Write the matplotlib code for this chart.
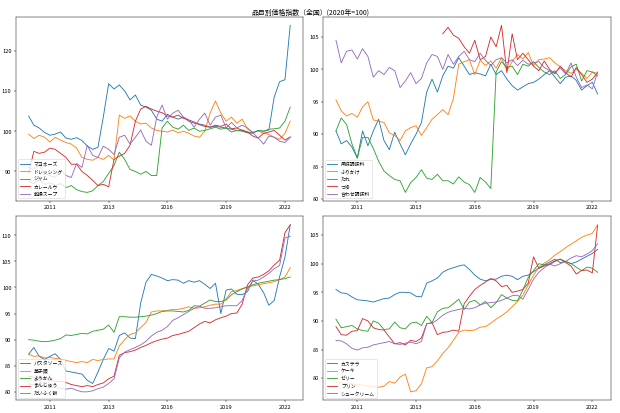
import numpy as np
import pandas as pd
import matplotlib
matplotlib.use("Agg")
import matplotlib.pyplot as plt

plt.rcParams['font.family'] = ['Noto Sans CJK JP', 'DejaVu Sans']

# quarterly observation dates (2010-01 ... 2022-04)
dates = pd.date_range('2010-01-01', periods=50, freq='3MS')
tick_dates = ['2011-01-01', '2013-10-01', '2016-07-01', '2019-04-01', '2022-01-01']
tick_labels = ['2011', '2013', '2016', '2019', '2022']

title = '品目別価格指数（全国）(2020年=100)'

# ---- panel 1 ----
names1 = ['マヨネーズ', 'ドレッシング', 'ジャム', 'カレールウ', '乾燥スープ']
mayo = [103.8, 101.5, 100.8, 99.7, 99.0, 99.3, 99.8, 98.3, 98.0, 98.4, 97.7, 96.3, 95.5, 96.0, 103.5, 111.8,
        110.5, 111.5, 110.0, 107.8, 109.0, 106.5, 106.0, 105.2, 103.0, 102.5, 104.2, 103.5, 103.0, 103.5,
        102.5, 102.0, 101.8, 101.5, 101.0, 101.2, 101.0, 100.8, 100.5, 100.2, 100.3, 99.8, 99.6, 100.2,
        100.0, 100.3, 108.5, 112.3, 112.8, 126.3]
dressing = [99.3, 98.2, 99.0, 98.5, 97.3, 98.5, 97.8, 97.2, 96.8, 95.8, 93.5, 93.0, 92.8, 93.5, 93.0, 94.0,
            92.8, 104.0, 103.2, 103.8, 102.5, 101.8, 102.0, 100.8, 100.2, 100.0, 99.8, 100.3, 99.6, 100.0,
            99.5, 98.8, 98.5, 100.0, 104.5, 107.5, 104.5, 102.5, 103.5, 102.0, 103.0, 100.5, 99.8, 100.0,
            99.5, 99.2, 98.5, 98.0, 99.5, 102.5]
jam = [87.5, 87.0, 88.0, 86.8, 87.2, 86.5, 87.0, 86.0, 86.5, 85.5, 85.0, 84.8, 85.2, 86.5, 87.5, 89.5,
       91.5, 94.8, 93.0, 90.5, 90.0, 89.3, 90.0, 89.0, 89.0, 100.8, 102.5, 101.0, 100.5, 101.5, 100.2,
       100.8, 100.0, 100.2, 100.6, 101.0, 100.5, 100.8, 99.8, 100.2, 100.0, 99.6, 99.5, 100.2, 100.0,
       100.5, 100.6, 100.8, 102.5, 106.0]
curry = [89.5, 95.0, 94.5, 94.8, 95.8, 95.5, 94.5, 93.5, 91.8, 91.8, 90.0, 89.0, 87.8, 86.5, 86.8, 86.2,
         93.0, 93.8, 94.5, 96.5, 102.5, 105.5, 106.2, 105.5, 105.0, 104.6, 103.8, 103.5, 104.0, 103.2,
         102.8, 102.3, 101.6, 101.2, 101.0, 101.5, 101.2, 101.8, 100.6, 100.8, 100.2, 99.8, 98.8, 98.3,
         99.5, 99.8, 100.2, 99.0, 97.8, 98.6]
soup = [91.0, 90.5, 91.5, 89.5, 89.0, 88.5, 90.5, 89.0, 88.5, 92.0, 91.0, 96.5, 94.0, 93.5, 96.3, 95.5,
        94.2, 98.5, 99.0, 96.8, 98.5, 100.3, 97.5, 96.5, 103.5, 106.5, 103.0, 104.5, 105.2, 103.5, 102.8,
        101.0, 103.0, 104.5, 101.5, 103.5, 104.0, 100.8, 102.2, 100.8, 101.5, 100.8, 99.6, 98.3, 96.8,
        98.8, 98.5, 97.5, 97.2, 98.5]

# ---- panel 2 ----
names2 = ['風味調味料', 'ふりかけ', 'たれ', 'つゆ', '合わせ調味料']
fumi = [90.5, 88.5, 89.0, 88.0, 86.3, 90.5, 88.2, 90.5, 92.3, 89.0, 87.6, 90.3, 88.5, 86.8, 88.5, 90.0,
        91.8, 96.5, 98.5, 96.5, 99.0, 100.5, 100.2, 101.8, 100.5, 99.2, 99.5, 99.3, 99.0, 100.8, 99.2,
        99.8, 98.5, 97.5, 96.8, 97.3, 97.8, 98.0, 98.5, 99.2, 99.8, 98.8, 97.8, 98.8, 99.0, 98.3, 96.8,
        97.5, 98.0, 96.2]
furikake = [95.3, 93.6, 92.8, 93.2, 92.6, 94.2, 95.0, 92.2, 92.0, 91.8, 90.2, 89.8, 89.0, 90.5, 91.0, 91.3,
            89.8, 91.0, 92.3, 93.0, 93.8, 93.0, 95.5, 100.8, 101.2, 101.5, 99.2, 101.4, 100.6, 101.3,
            100.2, 101.8, 99.8, 101.2, 102.3, 101.6, 102.6, 100.6, 101.5, 101.6, 101.8, 101.0, 100.4,
            99.8, 99.4, 100.0, 99.4, 98.6, 99.6, 99.4]
tare = [90.5, 92.5, 91.5, 88.5, 86.3, 89.5, 89.5, 87.8, 85.8, 84.3, 83.6, 83.0, 82.8, 81.0, 82.5, 83.3,
        84.5, 83.2, 83.0, 83.8, 82.8, 82.8, 82.3, 83.4, 82.6, 82.2, 81.0, 83.3, 82.6, 81.6, 99.6, 101.2,
        100.3, 100.5, 99.2, 100.8, 100.5, 101.2, 100.3, 99.6, 99.2, 99.8, 98.6, 99.2, 100.4, 100.8, 98.2,
        99.8, 99.6, 99.0]
tsuyu = [np.nan] * 20 + [105.5, 106.5, 105.3, 104.8, 103.5, 102.5, 104.5, 101.5, 102.0, 105.0, 103.5,
                         106.8, 99.5, 105.5, 101.5, 102.5, 101.5, 100.5, 99.8, 101.3, 100.0, 99.3, 100.5,
                         99.5, 98.8, 100.3, 99.2, 98.0, 98.5, 99.5]
awase = [104.5, 101.0, 102.8, 103.0, 101.6, 103.2, 102.0, 98.8, 99.8, 99.2, 100.3, 99.8, 97.2, 98.2, 99.5,
         97.8, 98.6, 101.0, 102.3, 102.0, 100.0, 102.3, 100.8, 102.0, 102.8, 101.5, 101.2, 102.5, 101.4,
         100.6, 101.5, 101.8, 101.0, 101.5, 100.6, 101.4, 100.8, 101.0, 101.2, 100.3, 99.8, 99.5, 100.2,
         99.3, 101.0, 98.8, 97.2, 97.6, 97.0, 99.6]

# ---- panel 3 ----
names3 = ['パスタソース', '菓子類', 'ようかん', 'まんじゅう', 'だいふく餅']
pasta = [87.2, 88.5, 86.8, 86.2, 86.8, 87.3, 86.2, 84.0, 83.8, 83.6, 83.4, 82.2, 81.6, 83.8, 86.2, 88.3,
         87.8, 90.8, 91.3, 90.3, 90.2, 97.0, 101.0, 102.5, 102.2, 101.8, 101.3, 101.5, 101.4, 100.8, 101.3,
         101.0, 101.3, 100.6, 99.8, 100.8, 95.0, 99.5, 99.7, 98.7, 98.6, 99.2, 101.4, 100.6, 99.0, 96.6,
         97.5, 102.0, 105.8, 112.0]
kashi = [87.2, 86.8, 86.9, 86.5, 86.6, 86.4, 86.3, 86.0, 85.8, 85.6, 85.8, 85.6, 86.2, 86.0, 86.2, 86.3,
         86.3, 88.8, 90.0, 91.0, 91.3, 92.3, 93.3, 95.3, 95.5, 95.5, 95.6, 95.8, 95.8, 96.0, 96.3, 96.0,
         96.1, 96.3, 96.6, 96.8, 96.8, 97.8, 99.2, 99.4, 99.8, 100.1, 100.3, 100.5, 100.7, 100.9, 101.1,
         101.5, 102.0, 103.8]
yokan = [90.0, 89.9, 89.7, 89.6, 89.7, 89.9, 90.2, 90.9, 90.8, 91.0, 91.2, 91.1, 91.6, 91.8, 92.0, 92.8,
         91.4, 94.4, 94.4, 94.3, 94.3, 94.4, 94.5, 94.7, 95.0, 95.4, 95.5, 95.5, 95.4, 95.3, 95.6, 96.5,
         96.4, 97.0, 97.6, 97.3, 97.3, 97.6, 98.6, 99.2, 99.7, 100.1, 100.5, 100.8, 101.0, 101.2, 101.4,
         101.5, 101.7, 102.0]
manju = [83.0, 82.8, 82.6, 82.4, 82.2, 82.0, 82.0, 81.8, 81.4, 81.2, 81.0, 81.2, 81.0, 81.4, 81.7, 82.5,
         83.0, 87.0, 87.5, 87.7, 88.0, 88.5, 88.9, 89.4, 89.8, 90.1, 90.3, 90.8, 91.0, 91.3, 91.6, 92.3,
         93.0, 93.5, 93.2, 93.8, 94.2, 94.5, 95.0, 95.1, 96.8, 100.5, 101.8, 102.0, 102.5, 103.2, 104.3,
         105.2, 110.5, 112.0]
daifuku = [81.5, 81.3, 81.2, 81.0, 80.9, 80.8, 80.7, 80.5, 80.7, 80.3, 80.0, 80.0, 80.2, 80.6, 80.9, 81.6,
           82.5, 86.5, 87.6, 88.1, 88.5, 89.0, 89.7, 90.7, 91.4, 91.8, 92.5, 93.7, 94.2, 94.8, 95.4, 96.0,
           96.4, 96.0, 96.0, 96.1, 96.3, 96.5, 96.5, 96.5, 97.5, 99.8, 101.2, 101.4, 102.0, 102.7, 103.6,
           104.2, 109.5, 109.8]

# ---- panel 4 ----
names4 = ['カステラ', 'ケーキ', 'ゼリー', 'プリン', 'シュークリーム']
castella = [95.5, 94.9, 94.8, 94.2, 93.7, 93.6, 93.5, 93.3, 93.6, 93.9, 94.0, 94.6, 95.0, 95.0, 94.9, 94.3,
            94.2, 96.6, 97.0, 97.5, 98.5, 99.0, 99.3, 99.6, 99.8, 99.0, 98.0, 97.3, 97.0, 97.3, 97.3, 97.8,
            98.0, 97.8, 97.2, 97.8, 98.0, 98.6, 99.2, 99.8, 100.3, 100.8, 100.2, 100.4, 100.0, 100.3, 100.8,
            101.3, 101.8, 102.5]
cake = [79.3, 79.2, 79.0, 79.0, 78.9, 78.8, 78.6, 78.5, 78.4, 78.6, 79.4, 79.1, 80.2, 80.7, 77.6, 77.8,
        79.0, 81.8, 82.0, 83.0, 84.3, 85.3, 86.6, 88.0, 88.4, 88.3, 88.4, 88.9, 89.0, 89.6, 90.3, 90.9,
        91.6, 92.5, 93.4, 94.5, 96.3, 98.0, 99.4, 100.1, 100.7, 101.5, 102.1, 102.8, 103.4, 104.0, 104.6,
        105.0, 105.3, 106.8]
jelly = [90.3, 88.8, 89.0, 89.2, 88.6, 88.3, 88.2, 90.0, 89.6, 88.5, 88.6, 89.8, 88.8, 88.6, 89.6, 89.8,
         89.2, 90.8, 89.7, 91.6, 92.2, 92.3, 93.0, 93.8, 92.0, 93.3, 93.6, 92.8, 93.4, 92.3, 93.2, 94.6,
         94.0, 93.6, 93.5, 95.4, 97.6, 98.8, 100.0, 99.8, 99.8, 100.4, 100.8, 100.4, 100.0, 99.4, 98.8,
         99.4, 99.2, 98.5]
pudding = [89.0, 87.6, 87.5, 88.2, 88.3, 90.4, 90.0, 88.8, 88.5, 88.4, 87.2, 86.0, 86.2, 85.8, 86.6, 86.4,
           87.0, 89.5, 89.7, 87.6, 88.0, 88.1, 88.4, 88.2, 93.0, 94.3, 95.5, 96.2, 96.8, 97.4, 97.0, 96.0,
           96.2, 95.0, 95.2, 95.5, 96.6, 101.2, 99.2, 99.6, 100.0, 100.5, 100.8, 100.2, 99.6, 98.2, 98.8,
           98.9, 98.4, 106.7]
choux = [86.6, 86.5, 86.0, 85.2, 84.9, 85.3, 85.4, 85.8, 86.0, 86.2, 86.4, 86.0, 85.9, 86.1, 86.3, 86.0,
         86.4, 89.5, 89.6, 90.2, 91.0, 91.5, 91.8, 92.0, 92.2, 92.1, 92.3, 92.8, 93.1, 93.2, 93.3, 93.6,
         94.0, 94.4, 94.5, 93.8, 95.5, 97.3, 98.5, 99.3, 99.9, 99.6, 100.0, 100.4, 101.0, 101.4, 101.2,
         101.7, 102.3, 103.5]

panels = [
    (names1, [mayo, dressing, jam, curry, soup]),
    (names2, [fumi, furikake, tare, tsuyu, awase]),
    (names3, [pasta, kashi, yokan, manju, daifuku]),
    (names4, [castella, cake, jelly, pudding, choux]),
]

fig, axes = plt.subplots(2, 2, figsize=(15, 10), dpi=620 / 15)
fig.subplots_adjust(left=0.025, right=0.985, top=0.958, bottom=0.031, wspace=0.068, hspace=0.0855)

for ax, (names, series) in zip(axes.flat, panels):
    for name, vals in zip(names, series):
        ax.plot(dates, vals, label=name)
    ax.set_xticks(pd.to_datetime(tick_dates))
    ax.set_xticklabels(tick_labels)
    ax.legend(loc='lower left', fontsize=8.5)

fig.suptitle(title)
fig.savefig('out.png')
